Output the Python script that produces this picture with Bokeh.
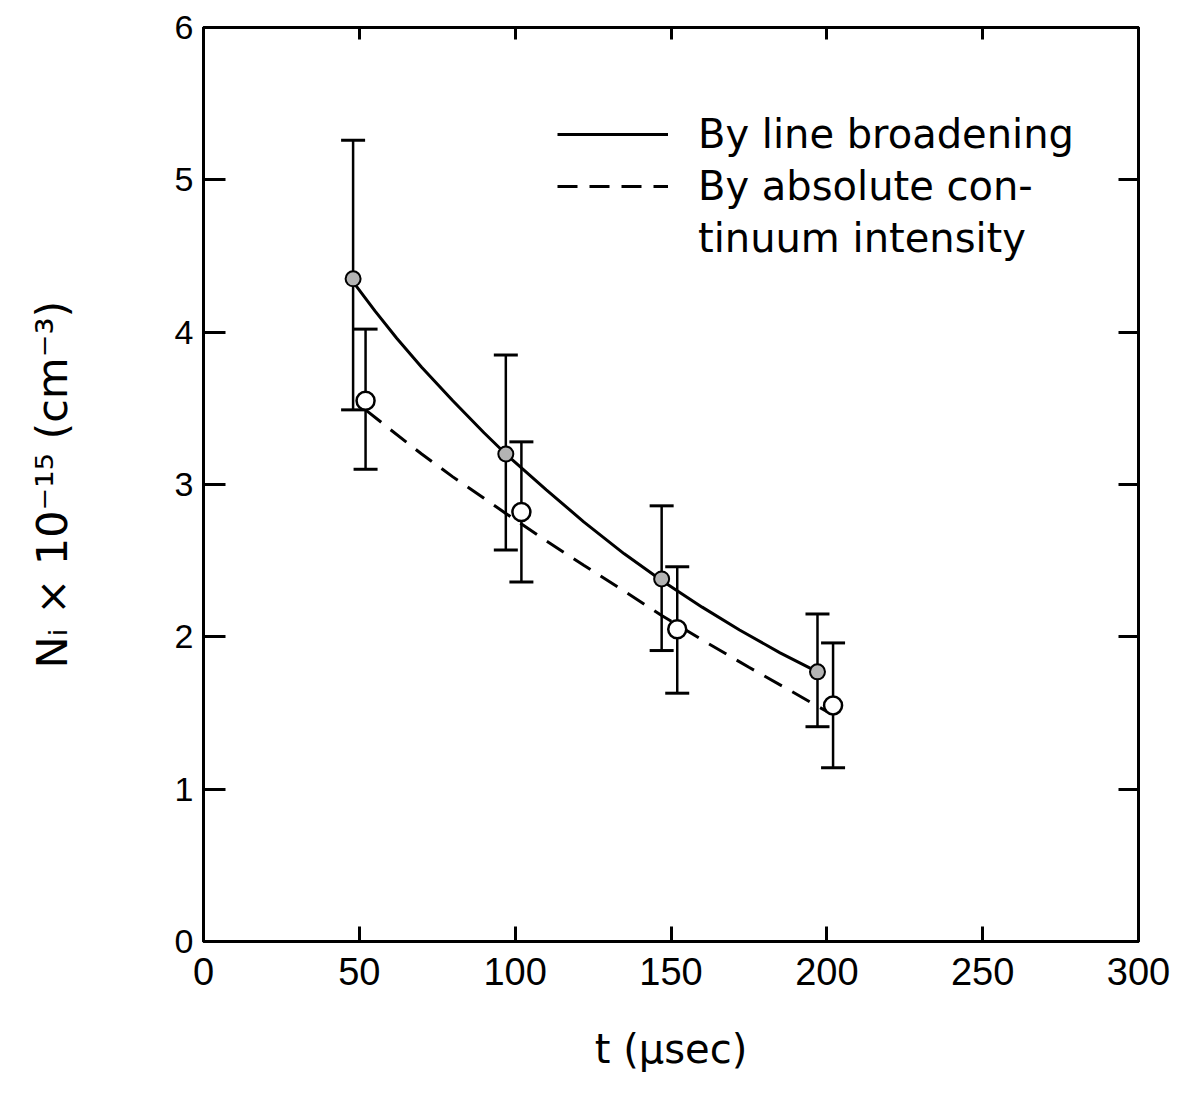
from bokeh.plotting import figure
from bokeh.models import (ColumnDataSource, Whisker, TeeHead, LinearAxis, Range1d,
                          FixedTicker, Legend, LegendItem)
from bokeh.embed import file_html
from bokeh.resources import INLINE

# ---- data ----
# By line broadening (filled circles)
t_lb = [48, 97, 147, 197]
n_lb = [4.35, 3.20, 2.38, 1.77]
n_lb_hi = [5.26, 3.85, 2.86, 2.15]
n_lb_lo = [3.49, 2.57, 1.91, 1.41]

# By absolute continuum intensity (open circles)
t_ci = [52, 102, 152, 202]
n_ci = [3.55, 2.82, 2.05, 1.55]
n_ci_hi = [4.02, 3.28, 2.46, 1.96]
n_ci_lo = [3.10, 2.36, 1.63, 1.14]

# fitted curves as drawn
fit_lb_t = [48, 55, 62, 70, 80, 90, 97, 110, 122, 135, 147, 160, 172, 185, 197]
fit_lb_n = [4.33, 4.14, 3.96, 3.77, 3.55, 3.34, 3.20, 2.965, 2.755, 2.545, 2.37,
            2.195, 2.045, 1.895, 1.77]
fit_ci_t = [52, 60, 70, 80, 90, 97, 110, 122, 135, 147, 160, 175, 188, 200]
fit_ci_n = [3.49, 3.36, 3.20, 3.05, 2.91, 2.81, 2.63, 2.47, 2.30, 2.14, 1.98,
            1.80, 1.65, 1.51]

x_ticks = [0, 50, 100, 150, 200, 250, 300]
y_ticks = [0, 1, 2, 3, 4, 5, 6]

label_lb = "By line broadening"
label_ci_1 = "By absolute con-"
label_ci_2 = "tinuum intensity"

TICK_FONT = "Liberation Sans"
TEXT_FONT = "DejaVu Sans"

p = figure(width=1182, height=1109, output_backend="svg", toolbar_location=None,
           x_range=Range1d(0, 300), y_range=Range1d(0, 6),
           min_border_left=203, min_border_right=44, min_border_top=27,
           min_border_bottom=168, background_fill_color="white",
           border_fill_color="white")
p.grid.visible = False
p.outline_line_color = "black"
p.outline_line_width = 3

# bottom axis
xa = p.xaxis[0]
xa.ticker = FixedTicker(ticks=x_ticks)
xa.major_tick_in = 15
xa.major_tick_out = 0
xa.minor_tick_line_color = None
xa.axis_line_width = 3
xa.major_tick_line_width = 3
xa.major_label_text_font = TICK_FONT
xa.major_label_text_font_size = "38px"
xa.major_label_text_color = "black"
xa.major_label_standoff = 16
xa.axis_label = "t (\u03bcsec)"
xa.axis_label_text_font = TEXT_FONT
xa.axis_label_text_font_size = "40px"
xa.axis_label_text_font_style = "normal"
xa.axis_label_text_color = "black"
xa.axis_label_standoff = 38

# left axis
ya = p.yaxis[0]
ya.ticker = FixedTicker(ticks=y_ticks)
ya.major_tick_in = 22
ya.major_tick_out = 0
ya.minor_tick_line_color = None
ya.axis_line_width = 3
ya.major_tick_line_width = 3
ya.major_label_text_font = TICK_FONT
ya.major_label_text_font_size = "34px"
ya.major_label_text_color = "black"
ya.major_label_standoff = 10
ya.axis_label = "N\u1d62 \u00d7 10\u207b\u00b9\u2075 (cm\u207b\u00b3)"
ya.axis_label_text_font = TEXT_FONT
ya.axis_label_text_font_size = "43px"
ya.axis_label_text_font_style = "normal"
ya.axis_label_text_color = "black"
ya.axis_label_standoff = 95

# top and right axes: ticks only (labels not drawn)
top = LinearAxis(ticker=FixedTicker(ticks=x_ticks), major_tick_in=12, major_tick_out=0,
                 minor_tick_line_color=None, axis_line_width=3, major_tick_line_width=3,
                 major_label_text_color=None, major_label_text_font_size="10px",
                 major_label_standoff=0)
p.add_layout(top, "above")
right = LinearAxis(ticker=FixedTicker(ticks=y_ticks), major_tick_in=20, major_tick_out=0,
                   minor_tick_line_color=None, axis_line_width=3, major_tick_line_width=3,
                   major_label_text_color=None, major_label_text_font_size="10px",
                   major_label_standoff=0)
p.add_layout(right, "right")

src_lb = ColumnDataSource(dict(t=t_lb, n=n_lb, hi=n_lb_hi, lo=n_lb_lo))
src_ci = ColumnDataSource(dict(t=t_ci, n=n_ci, hi=n_ci_hi, lo=n_ci_lo))

for src in (src_lb, src_ci):
    w = Whisker(base="t", upper="hi", lower="lo", source=src, dimension="height",
                line_color="black", line_width=2.5,
                upper_head=TeeHead(size=24, line_width=3, line_color="black"),
                lower_head=TeeHead(size=24, line_width=3, line_color="black"))
    p.add_layout(w)

r_lb = p.line(fit_lb_t, fit_lb_n, line_color="black", line_width=3)
r_ci = p.line(fit_ci_t, fit_ci_n, line_color="black", line_width=3, line_dash="20 12")
r_blank = p.line([], [], line_alpha=0)

p.scatter("t", "n", source=src_lb, size=15, fill_color="#b4b4b4",
          line_color="black", line_width=2)
p.scatter("t", "n", source=src_ci, size=18, fill_color="white",
          line_color="black", line_width=2.5)

leg = Legend(items=[LegendItem(label=label_lb, renderers=[r_lb]),
                    LegendItem(label=label_ci_1, renderers=[r_ci]),
                    LegendItem(label=label_ci_2, renderers=[r_blank])],
             location=(354, 677), orientation="vertical",
             glyph_width=111, glyph_height=52, label_height=52, label_standoff=30,
             spacing=0, padding=0, margin=0, border_line_color=None,
             background_fill_alpha=0, label_text_font=TEXT_FONT,
             label_text_font_size="40px", label_text_color="black")
p.add_layout(leg)

open("out.html", "w").write(file_html(p, INLINE))
